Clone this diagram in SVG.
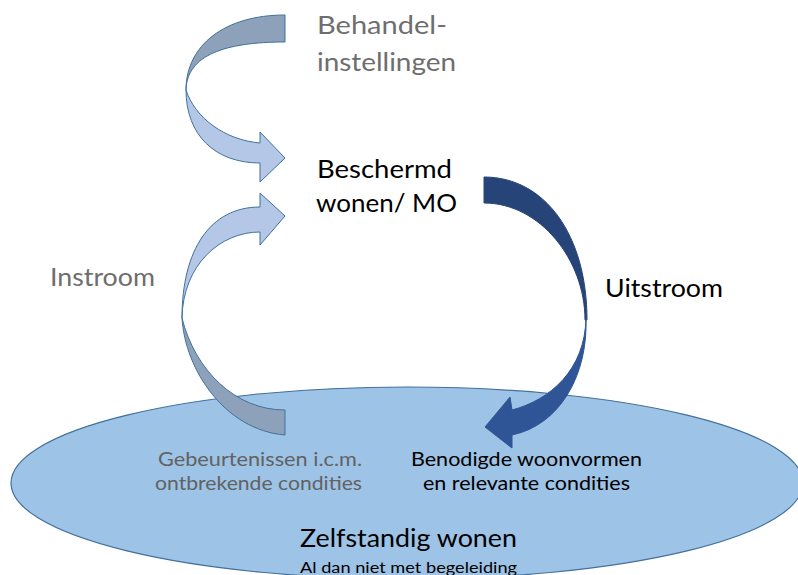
<svg xmlns="http://www.w3.org/2000/svg" width="798" height="575" viewBox="0 0 798 575">
<style>
text{font-family:Lato,"Open Sans","Liberation Sans",sans-serif}
.lt{fill:#b4c7e7;stroke:#41719c;stroke-width:1;stroke-linejoin:round}
.dk{fill:#8ea1bb;stroke:#41719c;stroke-width:1;stroke-linejoin:round}
.nv1{fill:#264478;stroke:#264478;stroke-width:1;stroke-linejoin:round}
.nv2{fill:#2f5597;stroke:#2f5597;stroke-width:1;stroke-linejoin:round}
.gray{fill:#6e6e6e}
.gray2{fill:#626262}
.blk{fill:#000}
</style>
<rect width="798" height="575" fill="#fff"/>
<g id="zelfstandig">
<ellipse cx="407" cy="483" rx="396" ry="96" fill="#9dc3e6" stroke="#41719c" stroke-width="1.2"/>
<text class="gray2" x="158" y="466" font-size="20" textLength="204" lengthAdjust="spacingAndGlyphs">Gebeurtenissen i.c.m.</text>
<text class="gray2" x="155" y="490" font-size="20" textLength="207" lengthAdjust="spacingAndGlyphs">ontbrekende condities</text>
<text class="blk" x="411" y="466" font-size="20" textLength="231" lengthAdjust="spacingAndGlyphs">Benodigde woonvormen</text>
<text class="blk" x="423" y="490" font-size="20" textLength="207" lengthAdjust="spacingAndGlyphs">en relevante condities</text>
<text class="blk" x="300" y="546.5" font-size="25" textLength="217" lengthAdjust="spacingAndGlyphs">Zelfstandig wonen</text>
<text class="blk" x="300" y="573" font-size="14.5" textLength="217" lengthAdjust="spacingAndGlyphs">Al dan niet met begeleiding</text>
</g>
<g id="connectors">
<g id="arrow-behandel">
<path class="dk" d="M285,15 C225,15 186,45 186,90 C187,55 225,42 285,42 Z"/>
<path class="lt" d="M186,90 C186,135 215,163 260,163 L260,182 L285,158 L260,132 L260,143 C225,140 195,118 186,90 Z"/>
</g>
<g id="arrow-instroom">
<path class="dk" d="M182,318 C185,370 225,430 285,435 L285,410 C235,410 195,370 182,318 Z"/>
<path class="lt" d="M182,318 C182,250 210,207 260,207 L260,193 L285,216 L260,245 L260,232 C220,232 183,265 182,318 Z"/>
</g>
<g id="arrow-uitstroom">
<path class="nv1" d="M484,177 C545,177 587,235 587,320 L585,320 C585,260 540,203 484,203 Z"/>
<path class="nv2" d="M586,318 C588,375 560,425 512,435 L512,448 L485,427 L510,397 L512,410 C550,400 585,370 586,318 Z"/>
</g>
</g>
<g id="behandel">
<text class="gray" x="317" y="34" font-size="24.5" textLength="130" lengthAdjust="spacingAndGlyphs">Behandel-</text>
<text class="gray" x="317" y="71" font-size="24.5" textLength="139" lengthAdjust="spacingAndGlyphs">instellingen</text>
</g>
<g id="beschermd">
<text class="blk" x="317" y="178" font-size="24.5" textLength="135" lengthAdjust="spacingAndGlyphs">Beschermd</text>
<text class="blk" x="316" y="212" font-size="24.5" textLength="141" lengthAdjust="spacingAndGlyphs">wonen/ MO</text>
</g>
<g id="instroom">
<text class="gray" x="50" y="286" font-size="24.5" textLength="105" lengthAdjust="spacingAndGlyphs">Instroom</text>
</g>
<g id="uitstroom">
<text class="blk" x="605" y="297" font-size="24.5" textLength="118" lengthAdjust="spacingAndGlyphs">Uitstroom</text>
</g>
</svg>
